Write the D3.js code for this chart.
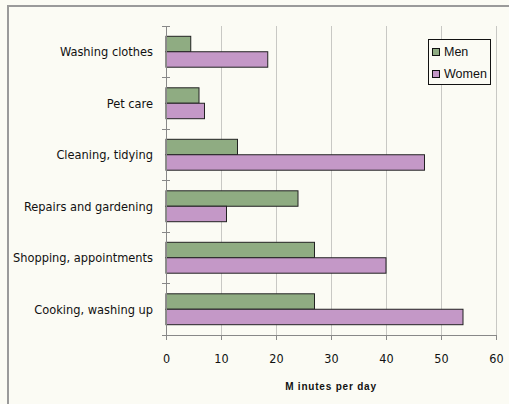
<!DOCTYPE html>
<html><head><meta charset="utf-8">
<script src="https://cdn.jsdelivr.net/npm/d3@7"></script>
<style>
html,body{margin:0;padding:0;background:#fbfbf4;}
svg{display:block;}
</style></head>
<body>
<script>
const categories = ["Washing clothes","Pet care","Cleaning, tidying","Repairs and gardening","Shopping, appointments","Cooking, washing up"];
const seriesNames = ["Men","Women"];
const men = [4.5, 6, 13, 24, 27, 27];
const women = [18.5, 7, 47, 11, 40, 54];
const xTicks = [0,10,20,30,40,50,60];
const colors = ["#8fac82","#c498c7"];

(function(){
const W = 509, H = 404;
const svg = d3.select("body").append("svg").attr("width", W).attr("height", H);
svg.append("rect").attr("width", W).attr("height", H).attr("fill", "#fbfbf4");
// frame
svg.append("path").attr("d", "M8,404 V6 H509").attr("fill","none").attr("stroke","#9a9a9a").attr("stroke-width",2);

const pL = 166, pR = 496, pT = 26, pB = 335;
const x = d3.scaleLinear().domain([0,60]).range([pL,pR]);
const y = d3.scaleBand().domain(categories).range([pT,pB]).paddingInner(0.4).paddingOuter(0.2);
const y2 = d3.scaleBand().domain(seriesNames).range([0, y.bandwidth()]);

// gridlines
svg.append("g").selectAll("line").data(xTicks.slice(1)).join("line")
  .attr("x1", d=>x(d)).attr("x2", d=>x(d)).attr("y1", pT).attr("y2", pB)
  .attr("stroke","#c8c8c4").attr("stroke-width",1).attr("shape-rendering","crispEdges");

// bars
const data = categories.map((c,i)=>({c, vals:[men[i], women[i]]}));
const g = svg.append("g");
data.forEach(d=>{
  d.vals.forEach((v,j)=>{
    g.append("rect")
      .attr("x", x(0)).attr("y", y(d.c)+y2(seriesNames[j]))
      .attr("width", x(v)-x(0)).attr("height", y2.bandwidth())
      .attr("fill", colors[j]).attr("stroke","#222").attr("stroke-width",1);
  });
});

// y axis line and ticks between categories
const yBound = d3.range(categories.length+1).map(i=> pT + i*(pB-pT)/categories.length);
svg.append("line").attr("x1",pL).attr("x2",pL).attr("y1",pT).attr("y2",pB)
  .attr("stroke","#888").attr("shape-rendering","crispEdges");
svg.append("g").selectAll("line").data(yBound).join("line")
  .attr("x1",pL-4).attr("x2",pL+4).attr("y1",d=>d).attr("y2",d=>d)
  .attr("stroke","#888").attr("shape-rendering","crispEdges");

// x axis
const xAxis = d3.axisBottom(x).tickValues(xTicks).tickSize(5).tickSizeOuter(0).tickPadding(14);
const xa = svg.append("g").attr("transform",`translate(0,${pB})`).call(xAxis);
xa.select(".domain").attr("stroke","#888");
xa.selectAll(".tick line").attr("stroke","#888");
xa.selectAll("text").attr("font-family","DejaVu Sans Condensed, DejaVu Sans").attr("font-size",12.5).attr("fill","#111");

// category labels
svg.append("g").selectAll("text").data(categories).join("text")
  .attr("x", pL-13).attr("y", d=>y(d)+y.bandwidth()/2)
  .attr("dy","0.35em").attr("text-anchor","end")
  .attr("font-family","DejaVu Sans Condensed, DejaVu Sans").attr("font-size",12.7).attr("fill","#111")
  .text(d=>d);

// axis title
svg.append("text").attr("x",(pL+pR)/2).attr("y",390).attr("text-anchor","middle")
  .attr("font-family","Liberation Sans, Arial").attr("font-weight","bold").attr("font-size",10)
  .attr("letter-spacing","0.8px").attr("fill","#111").text("M inutes per day");

// legend
const lg = svg.append("g");
lg.append("rect").attr("x",428.5).attr("y",39.5).attr("width",62).attr("height",45)
  .attr("fill","#fbfbf4").attr("stroke","#111");
seriesNames.forEach((s,i)=>{
  lg.append("rect").attr("x",432.5).attr("y",48.5+i*22).attr("width",7).attr("height",7)
    .attr("fill",colors[i]).attr("stroke","#111");
  lg.append("text").attr("x",444).attr("y",56+i*22)
    .attr("font-family","Liberation Sans, Arial").attr("font-size",12.5).attr("fill","#111").text(s);
});
})();
</script>
</body></html>
